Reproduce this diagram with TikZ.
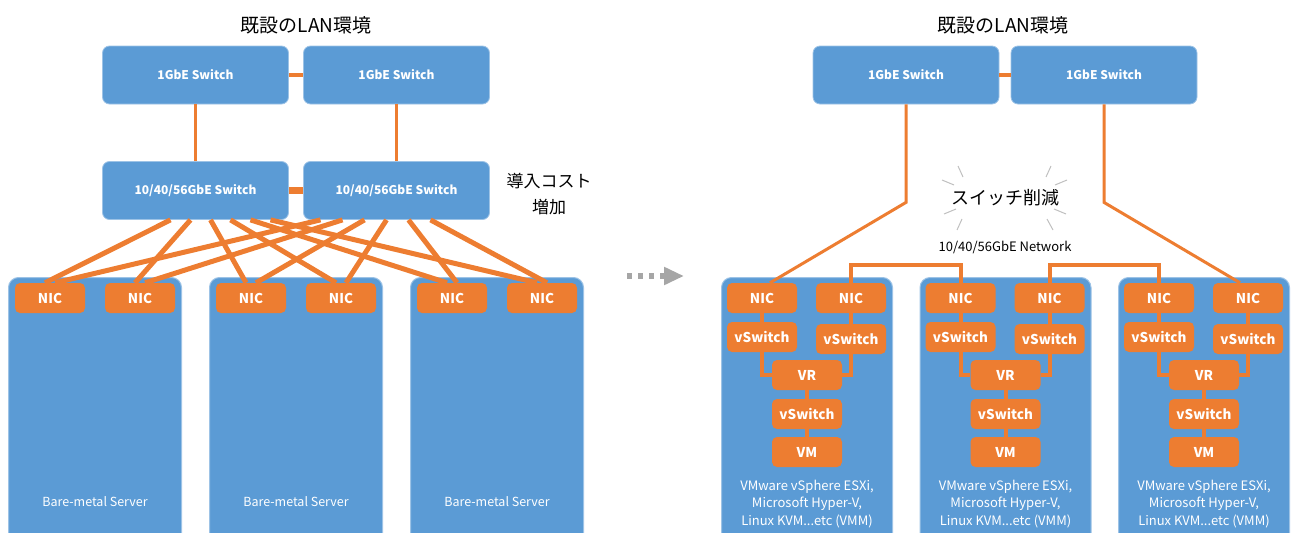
\documentclass[tikz,border=0pt]{standalone}
\usepackage{fontspec}
\setmainfont{Noto Sans CJK JP}
\usetikzlibrary{arrows.meta}

\definecolor{boxblue}{HTML}{5B9BD5}
\definecolor{boxedge}{HTML}{9DC3E6}
\definecolor{nicorange}{HTML}{ED7D31}
\definecolor{raygray}{HTML}{BFBFBF}
\definecolor{arrowgray}{HTML}{A6A6A6}

\tikzset{
  swbox/.style={fill=boxblue, draw=boxedge, line width=0.8pt, rounded corners=7pt,
    minimum width=186pt, minimum height=58pt, text=white,
    font=\bfseries\fontsize{12}{14}\selectfont},
  srvbox/.style={fill=boxblue, draw=boxedge, line width=1pt, rounded corners=10pt},
  nicbox/.style={fill=nicorange, rounded corners=5pt, minimum width=70pt,
    minimum height=30pt, inner sep=0pt, text=white,
    font=\bfseries\fontsize{13.5}{16}\selectfont},
  wire/.style={nicorange, line width=4pt},
  uplink/.style={nicorange, line width=3pt},
  trunk/.style={nicorange, line width=5pt},
  ray/.style={raygray, line width=1pt},
  srvlabel/.style={text=white, align=center, font=\fontsize{12.5}{17.5}\selectfont},
  heading/.style={align=center, font=\fontsize{17}{26}\selectfont},
  lantitle/.style={font=\fontsize{19}{22}\selectfont}
}

\begin{document}
\begin{tikzpicture}[x=1pt, y=-1pt]
\clip (0,0) rectangle (1291,533);

% before: extra switch layer
\node[lantitle] (lanL) at (306,25) {既設のLAN環境};
\node[swbox] (gbA) at (195.5,75) {1GbE Switch};
\node[swbox] (gbB) at (396.5,75) {1GbE Switch};
\node[swbox] (swA) at (195.5,190.5) {10/40/56GbE Switch};
\node[swbox] (swB) at (396.5,190.5) {10/40/56GbE Switch};
\node[heading] (cost) at (549,194) {導入コスト\\増加};
\draw[wire] (gbA) -- (gbB);
\draw[uplink] (gbA) -- (swA);
\draw[uplink] (gbB) -- (swB);
\draw[nicorange, line width=7pt] (swA) -- (swB);

\foreach \s in {1,2,3} {
  \pgfmathsetmacro\cx{95+201*(\s-1)}
  \node[srvbox, minimum width=173pt, minimum height=280pt, anchor=north] (srv\s) at (\cx,277) {};
  \node[nicbox] (lnicA\s) at (\cx-45,298) {NIC};
  \node[nicbox] (lnicB\s) at (\cx+45,298) {NIC};
  \node[srvlabel] (bm\s) at (\cx,502) {Bare-metal Server};
}
\foreach \s in {1,2,3} {
  \foreach \k [count=\j from 0] in {A,B} {
    \pgfmathsetmacro\i{2*(\s-1)+\j}
    \draw[trunk] ([xshift={-25+20*\i}]swA.south) -- ([xshift=-5]lnic\k\s.north);
    \draw[trunk] ([xshift={-76+22*\i}]swB.south) -- ([xshift=5]lnic\k\s.north);
  }
}

\coordinate (go) at (627,276);
\coordinate (gone) at (684,276);
\draw[arrowgray, line width=6pt, dash pattern=on 5pt off 6pt,
  -{Triangle[length=20pt, width=17pt]}] (go) -- (gone);

% after: hosts chained over the VR
\node[lantitle] (lanR) at (1003,25) {既設のLAN環境};
\node[swbox] (gbC) at (906,75) {1GbE Switch};
\node[swbox] (gbD) at (1104,75) {1GbE Switch};
\draw[wire] (gbC) -- (gbD);

\node[font=\fontsize{18}{22}\selectfont] (cut) at (1005,198) {スイッチ削減};
\draw[ray] (cut.center) ++(-47,-32) -- ++(5,11);
\draw[ray] (cut.center) ++(-63,-18) -- ++(12,5);
\draw[ray] (cut.center) ++(-61,16) -- ++(12,-5);
\draw[ray] (cut.center) ++(-48,32) -- ++(5,-11);
\draw[ray] (cut.center) ++(46,-32) -- ++(-5,11);
\draw[ray] (cut.center) ++(62,-18) -- ++(-12,5);
\draw[ray] (cut.center) ++(61,16) -- ++(-12,-5);
\draw[ray] (cut.center) ++(48,32) -- ++(-6,-11);
\node[font=\fontsize{13}{15}\selectfont] (net) at (1005,247) {10/40/56GbE Network};

\foreach \h in {1,2,3} {
  \pgfmathsetmacro\cx{807+198.5*(\h-1)}
  \node[srvbox, minimum width=171pt, minimum height=280pt, anchor=north] (host\h) at (\cx,277) {};
  \node[nicbox] (nicA\h) at (\cx-45,298) {NIC};
  \node[nicbox] (nicB\h) at (\cx+44,298) {NIC};
  \node[nicbox] (vsA\h) at (\cx-45,337) {vSwitch};
  \node[nicbox] (vsB\h) at (\cx+44,339) {vSwitch};
  \node[nicbox] (vr\h) at (\cx,375) {VR};
  \node[nicbox] (vsC\h) at (\cx,414) {vSwitch};
  \node[nicbox] (vm\h) at (\cx,452) {VM};
  \node[srvlabel, font=\fontsize{13}{17.5}\selectfont] (vmm\h) at (\cx,504) {VMware vSphere ESXi,\\Microsoft Hyper-V,\\Linux KVM...etc (VMM)};
  \draw[wire] (nicA\h) -- (vsA\h);
  \draw[wire] (nicB\h) -- (vsB\h);
  \draw[wire] (vsA\h.south) |- (vr\h.west);
  \draw[wire] (vsB\h.south) |- (vr\h.east);
  \draw[wire] (vr\h) -- (vsC\h);
  \draw[wire] (vsC\h) -- (vm\h);
}
\draw[uplink] (gbC.south) -- ++(0,98) -- ([xshift=8]nicA1.north);
\draw[uplink] (gbD.south) -- ++(0,98) -- ([xshift=-8]nicB3.north);
\draw[wire] (nicB1.north) -- ++(0,-18) -| (nicA2.north);
\draw[wire] (nicB2.north) -- ++(0,-18) -| (nicA3.north);
\end{tikzpicture}
\end{document}
